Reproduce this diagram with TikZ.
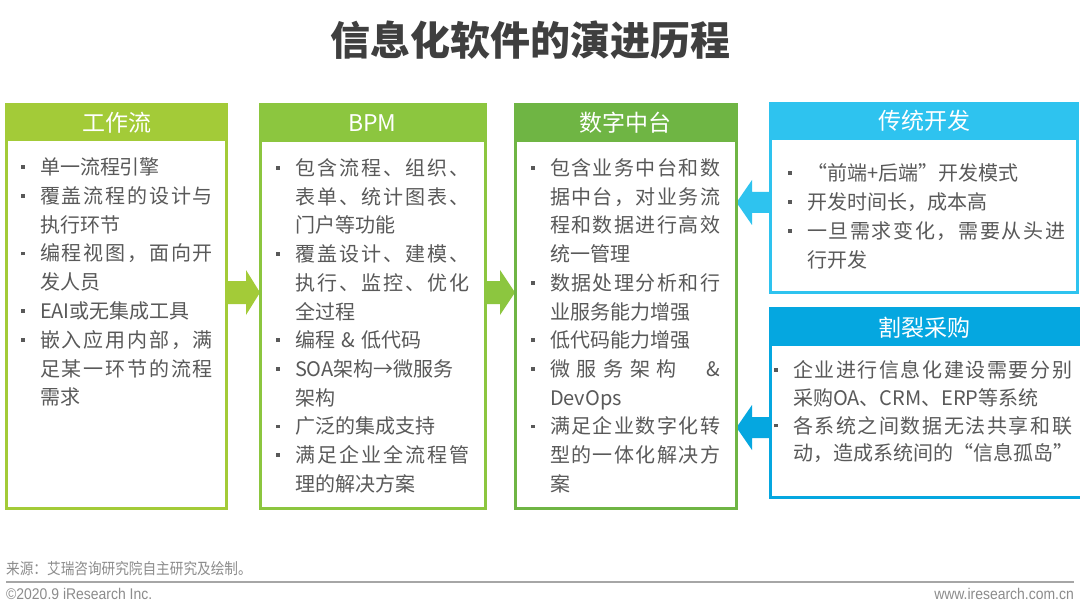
\documentclass[tikz,border=0pt]{standalone}
\usepackage{fontspec}
\setmainfont{Noto Sans CJK SC}
\newfontfamily\narrowcjk[FakeStretch=0.88]{Noto Sans CJK SC}
\newfontfamily\narrowlat[FakeStretch=0.9]{Liberation Sans}
\usetikzlibrary{calc,backgrounds}
\definecolor{cA}{HTML}{A3CB38}
\definecolor{cB}{HTML}{8CC63F}
\definecolor{cC}{HTML}{6FB544}
\definecolor{cD}{HTML}{2EC3EF}
\definecolor{cE}{HTML}{05A7E0}
\definecolor{txt}{HTML}{595959}
\definecolor{ttl}{HTML}{3F3F3F}
\definecolor{foot}{HTML}{8C8C8C}
\definecolor{footline}{HTML}{A6A6A6}
\newlength\LW
\def\sprA#1#2{#1\ifx\relax#2\else\hfill\expandafter\sprA\expandafter#2\fi}
\newcommand\J[1]{\makebox[\LW][s]{\sprA#1\relax\relax}}
\newcommand\B{\makebox[19pt][l]{\hspace{0.3pt}\raisebox{5.7pt}{\rule{3.4pt}{3.6pt}}}}
\newcommand\I{\hspace*{19pt}}
\newcommand\GAP{\hspace{16pt}}
% #1 start, #2 tip, #3 colour, #4 direction (1 right, -1 left), #5 head length, #6 shaft half height
\newcommand\harrow[6]{\fill[#3] ($(#1)+(0,-#6)$) -- ($(#2)+(-#5*#4,-#6)$) -- ($(#2)+(-#5*#4,-22.5)$) -- (#2) -- ($(#2)+(-#5*#4,22.5)$) -- ($(#2)+(-#5*#4,#6)$) -- ($(#1)+(0,#6)$) -- cycle;}
\tikzset{
  box/.style={draw, line width=3pt, fill=white, anchor=north west, inner sep=0pt, outer sep=0pt},
  hdr/.style={anchor=north west, inner sep=0pt, outer sep=0pt},
  htext/.style={anchor=base, text=white, inner sep=0pt, font=\fontsize{23}{23}\selectfont},
  body/.style={anchor=north west, inner sep=0pt, outer sep=0pt, text=txt, align=left},
}
\begin{document}
\begin{tikzpicture}[x=1pt,y=-1pt]
\path[use as bounding box] (0,0) rectangle (1080,615);
\clip (0,0) rectangle (1080,615);

% title
\node[anchor=base, inner sep=0pt, text=ttl, font=\bfseries\fontsize{40}{40}\selectfont] (title) at (530,55.5) {信息化软件的演进历程};

% boxes
\node[box, draw=cA, minimum width=220, minimum height=404] (b1) at (6.5,104.5) {};
\node[hdr, fill=cA, minimum width=220, minimum height=37] (h1) at (b1.north west) {};
\node[box, draw=cB, minimum width=225, minimum height=404] (b2) at (260,104.5) {};
\node[hdr, fill=cB, minimum width=225, minimum height=37.5] (h2) at (b2.north west) {};
\node[box, draw=cC, minimum width=221.5, minimum height=404] (b3) at (515,104.5) {};
\node[hdr, fill=cC, minimum width=221.5, minimum height=37.5] (h3) at (b3.north west) {};
\node[box, draw=cD, minimum width=307, minimum height=189] (b4) at (770,103.5) {};
\node[hdr, fill=cD, minimum width=307, minimum height=36.5] (h4) at (b4.north west) {};
\node[box, draw=cE, minimum width=320, minimum height=189] (b5) at (770,308) {};
\node[hdr, fill=cE, minimum width=320, minimum height=38] (h5) at (b5.north west) {};

% arrows
\begin{pgfonlayer}{background}
\fill[white] (0,0) rectangle (1080,615);
\coordinate (a1s) at (b1.east |- 0,292.5);
\coordinate (a1e) at (b2.west |- 0,292.5);
\coordinate (a2s) at (b2.east |- 0,292.5);
\coordinate (a2e) at (b3.west |- 0,292.5);
\coordinate (a3s) at (b4.west |- 0,202.5);
\coordinate (a3e) at (b3.east |- 0,202.5);
\coordinate (a4s) at (b5.west |- 0,427.5);
\coordinate (a4e) at (b3.east |- 0,427.5);
\harrow{a1s}{a1e}{cA}{1}{14}{11.5}
\harrow{a2s}{a2e}{cB}{1}{15}{11.5}
\harrow{a3s}{a3e}{cD}{-1}{15.5}{10.5}
\harrow{a4s}{a4e}{cE}{-1}{15.5}{10.5}
\end{pgfonlayer}

% header texts
\node[htext] (t1) at (116.5,131.7) {工作流};
\node[htext] (t2) at (372.5,131.7) {BPM};
\node[htext] (t3) at (625.8,131.7) {数字中台};
\node[htext] (t4) at (924,129.7) {传统开发};
\node[htext] (t5) at (924,336.7) {割裂采购};

% bodies
\node[body, text width=194pt, font=\fontsize{20}{28.8}\selectfont] (x1) at (21,154.6) {\setlength\LW{173pt}\rule{0pt}{20pt}\B 单一流程引擎\\
\B\J{覆盖流程的设计与}\\
\I 执行环节\\
\B\J{编程视图，面向开}\\
\I 发人员\\
\B EAI或无集成工具\\
\B\J{嵌入应用内部，满}\\
\I\J{足某一环节的流程}\\
\I 需求};

\node[body, text width=195pt, font=\fontsize{20}{28.7}\selectfont] (x2) at (276,155.6) {\setlength\LW{174pt}\rule{0pt}{20pt}\B\J{包含流程、组织、}\\
\I\J{表单、统计图表、}\\
\I 门户等功能\\
\B\J{覆盖设计、建模、}\\
\I\J{执行、监控、优化}\\
\I 全过程\\
\B 编程 \& 低代码\\
\B SOA架构→微服务\\
\I 架构\\
\B 广泛的集成支持\\
\B\J{满足企业全流程管}\\
\I 理的解决方案};

\node[body, text width=191pt, font=\fontsize{20}{28.7}\selectfont] (x3) at (531,155.6) {\setlength\LW{170pt}\rule{0pt}{20pt}\B\J{包含业务中台和数}\\
\I\J{据中台，对业务流}\\
\I\J{程和数据进行高效}\\
\I 统一管理\\
\B\J{数据处理分析和行}\\
\I 业服务能力增强\\
\B 低代码能力增强\\
\B\J{微服务架构\GAP\&}\\
\I DevOps\\
\B\J{满足企业数字化转}\\
\I\J{型的一体化解决方}\\
\I 案};

\node[body, text width=279pt, font=\fontsize{20}{29}\selectfont] (x4) at (788,160.6) {\setlength\LW{258pt}\rule{0pt}{20pt}\B“前端+后端”开发模式\\
\B 开发时间长，成本高\\
\B\J{一旦需求变化，需要从头进}\\
\I 行开发};

\node[body, text width=300pt, font=\fontsize{20}{27.7}\selectfont] (x5) at (774,357.6) {\setlength\LW{279pt}\rule{0pt}{20pt}\B\J{企业进行信息化建设需要分别}\\
\I 采购OA、CRM、ERP等系统\\
\B\J{各系统之间数据无法共享和联}\\
\I{\setlength\LW{272pt}\J{动，造成系统间的“信息孤岛”}}};

% footer
\node[anchor=base west, inner sep=0pt, text=foot, font=\narrowcjk\fontsize{15.5}{15.5}\selectfont] (src) at (6,574.8) {来源：艾瑞咨询研究院自主研究及绘制。};
\coordinate (fl1) at (6,582);
\coordinate (fl2) at (1074,582);
\draw[footline, line width=2pt] (fl1) -- (fl2);
\node[anchor=base west, inner sep=0pt, text=foot, font=\narrowlat\fontsize{15.5}{15.5}\selectfont] (copy) at (6,599.5) {©2020.9 iResearch Inc.};
\node[anchor=base east, inner sep=0pt, text=foot, font=\narrowlat\fontsize{15.5}{15.5}\selectfont] (www) at (1074,599.5) {www.iresearch.com.cn};
\end{tikzpicture}
\end{document}
